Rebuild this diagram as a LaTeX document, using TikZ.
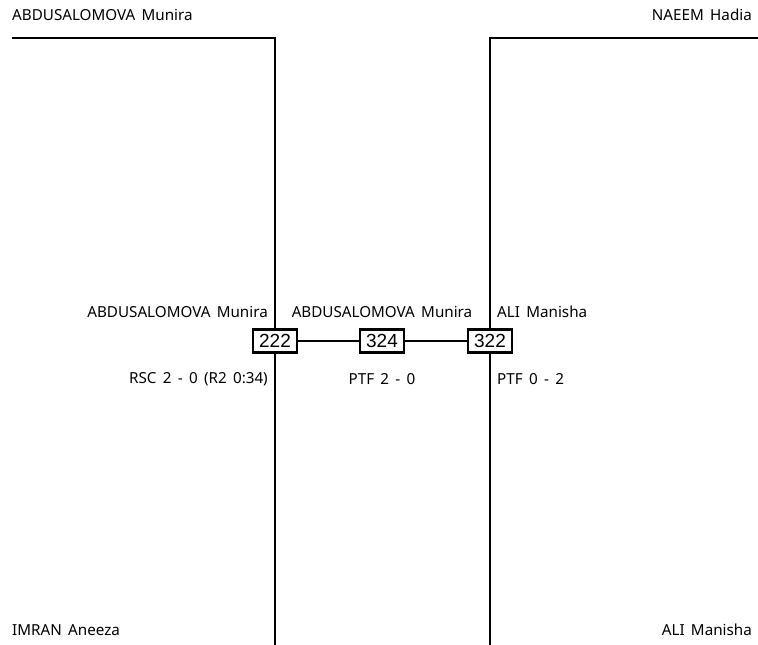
\documentclass[tikz,border=0pt]{standalone}
\usepackage{fontspec}
\setmainfont{Noto Sans}[WordSpace=1.6]
\newfontfamily\numfont{Liberation Sans}
\usetikzlibrary{positioning}
\definecolor{brkInk}{HTML}{000000}
\tikzset{
  every picture/.style={font=\fontsize{15.2}{18}\selectfont, text=brkInk},
  brk line/.style={draw=brkInk, line width=1.8pt},
  brk box/.style={draw=brkInk, line width=2.8pt, fill=white, minimum width=44pt,
    minimum height=23pt, inner sep=0pt, font=\numfont\fontsize{19}{21}\selectfont},
  brk name/.style={inner sep=0pt}
}

\begin{document}
\begin{tikzpicture}[x=1pt,y=-1pt]
  \useasboundingbox (0,0) rectangle (758,645);
  % bout boxes
  \node[brk box] (b222) at (275,341) {222};
  \node[brk box] (b324) at (382,341) {324};
  \node[brk box] (b322) at (490,341) {322};
  % bracket ends
  \coordinate (tl) at (12,38);
  \coordinate (tlc) at (275,38);
  \coordinate (bl) at (275,645);
  \coordinate (tr) at (758,38);
  \coordinate (trc) at (490,38);
  \coordinate (br) at (490,645);
  \draw[brk line] (tl) -- (tlc) -- (b222);
  \draw[brk line] (b222) -- (bl);
  \draw[brk line] (tr) -- (trc) -- (b322);
  \draw[brk line] (b322) -- (br);
  \draw[brk line] (b222) -- (b324);
  \draw[brk line] (b324) -- (b322);
  % athletes
  \node[brk name, anchor=west] (aTL) at (12,15) {ABDUSALOMOVA Munira};
  \node[brk name, anchor=east] (aTR) at (752,15) {NAEEM Hadia};
  \node[brk name, anchor=west] (aBL) at (12,630) {IMRAN Aneeza};
  \node[brk name, anchor=east] (aBR) at (752,630) {ALI Manisha};
  % winners and scores
  \node[brk name, anchor=east] (w222) at (268,312) {ABDUSALOMOVA Munira};
  \node[brk name] (w324) at (382,312) {ABDUSALOMOVA Munira};
  \node[brk name, anchor=west] (w322) at (497,312) {ALI Manisha};
  \node[brk name, anchor=east] (s222) at (268,379) {RSC 2 - 0 (R2 0:34)};
  \node[brk name] (s324) at (382,379) {PTF 2 - 0};
  \node[brk name, anchor=west] (s322) at (497,379) {PTF 0 - 2};
\end{tikzpicture}
\end{document}
